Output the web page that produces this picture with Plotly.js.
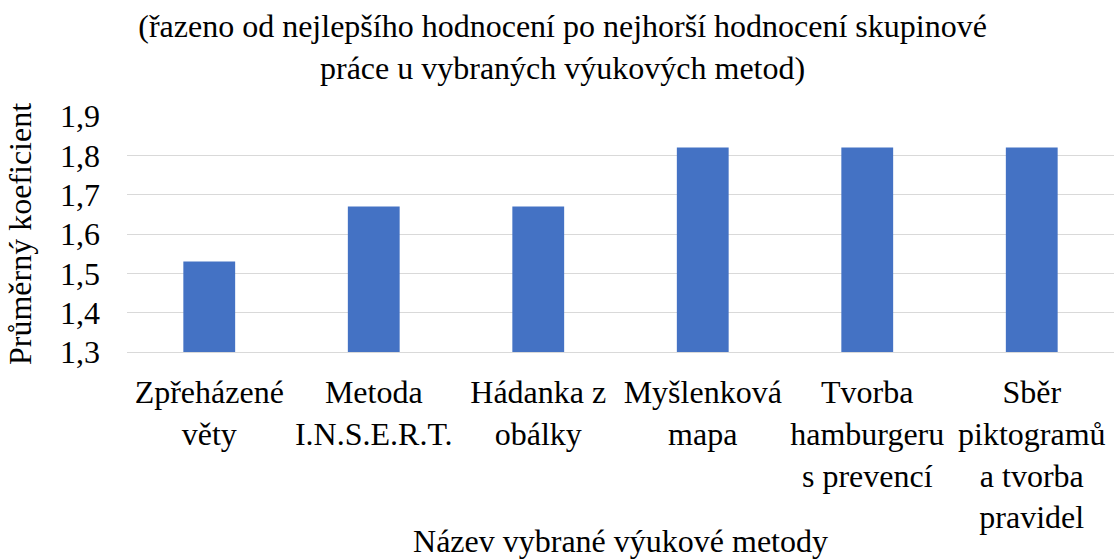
<!DOCTYPE html>
<html><head><meta charset="utf-8">
<script src="https://cdn.plot.ly/plotly-3.0.1.min.js"></script>
<style>html,body{margin:0;padding:0;background:#fff}</style>
</head><body>
<div id="chart" style="width:1114px;height:559px"></div>
<script>
const categories = ["Zpřeházené<br>věty", "Metoda<br>I.N.S.E.R.T.", "Hádanka z<br>obálky", "Myšlenková<br>mapa", "Tvorba<br>hamburgeru<br>s prevencí", "Sběr<br>piktogramů<br>a tvorba<br>pravidel"];
const values = [1.53, 1.67, 1.67, 1.82, 1.82, 1.82];
const titleText = "(řazeno od nejlepšího hodnocení po nejhorší hodnocení skupinové<br>práce u vybraných výukových metod)";
const xTitle = "Název vybrané výukové metody";
const yTitle = "Průměrný koeficient";
const font = "Liberation Serif";

Plotly.newPlot("chart", [{
  type: "bar", x: categories, y: values,
  marker: {color: "#4472C4"}, hoverinfo: "none"
}], {
  width: 1114, height: 559,
  margin: {l: 127, r: 0, t: 116, b: 207},
  separators: ", ",
  font: {family: font, size: 32, color: "#000"},
  bargap: 0.685,
  title: {text: titleText, x: 0.505, xanchor: "center", y: 0.933, yanchor: "top", font: {family: font, size: 32, color: "#000"}},
  xaxis: {title: {text: xTitle, standoff: 22, font: {family: font, size: 32}}, tickfont: {family: font, size: 32}, showline: true, linecolor: "#d9d9d9", linewidth: 1, ticks: "", ticklabelstandoff: 12, automargin: false},
  yaxis: {title: {text: yTitle, standoff: 18, font: {family: font, size: 32}}, range: [1.3, 1.9], dtick: 0.1, tickformat: ".1f", tickfont: {family: font, size: 32}, ticklabelstandoff: 26, gridcolor: "#d9d9d9", gridwidth: 1, zeroline: false, ticks: "", automargin: false},
  plot_bgcolor: "#fff", paper_bgcolor: "#fff", showlegend: false
}, {displayModeBar: false, staticPlot: true});
</script>
</body></html>
